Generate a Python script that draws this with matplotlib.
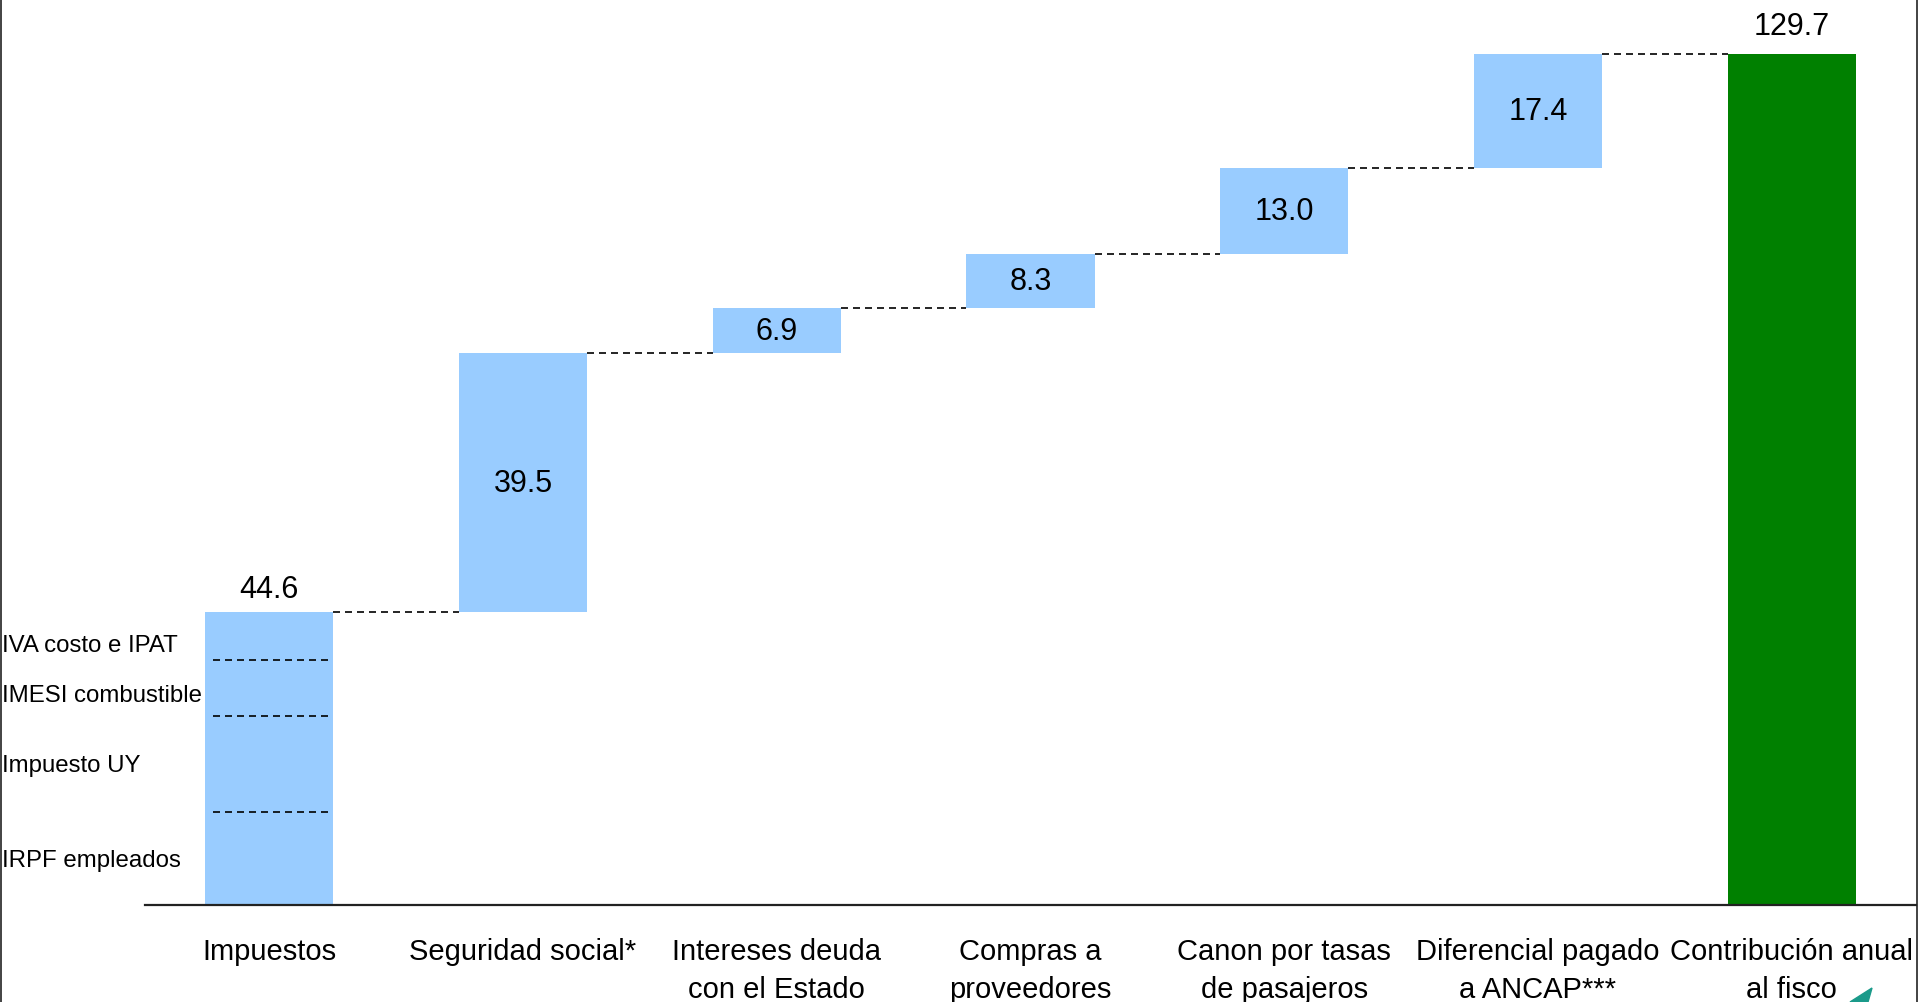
import matplotlib
matplotlib.use("Agg")
import matplotlib.pyplot as plt
from matplotlib.lines import Line2D
from matplotlib.patches import Polygon

plt.rcParams['font.family'] = ['Liberation Sans', 'DejaVu Sans']

# Waterfall steps (millions) and the total
categories = ["Impuestos", "Seguridad social*", "Intereses deuda\ncon el Estado",
              "Compras a\nproveedores", "Canon por tasas\nde pasajeros",
              "Diferencial pagado\na ANCAP***", "Contribución anual\nal fisco"]
steps = [44.6, 39.5, 6.9, 8.3, 13.0, 17.4]
total = 129.7

# Breakdown of the first bar (bottom to top)
tax_parts = ["IRPF empleados", "Impuesto UY", "IMESI combustible", "IVA costo e IPAT"]
tax_values = [14.2, 14.6, 8.5, 7.3]

BLUE = "#99CCFF"
GREEN = "#008000"

fig = plt.figure(figsize=(19.2, 10.03), dpi=100)
W, H = 1920, 1003
ax = fig.add_axes([144.5 / W, 97 / H, (1916 - 144.5) / W, 906 / H])
ax.set_xlim(-0.492, 6.49)
ax.set_ylim(0, 138.1)

width = 0.505
bottoms = []
acc = 0.0
for v in steps:
    bottoms.append(acc)
    acc += v

x = list(range(len(categories)))
ax.bar(x[:-1], steps, bottom=bottoms, width=width, color=BLUE, edgecolor="none", zorder=2)
ax.bar(x[-1], total, width=width, color=GREEN, edgecolor="none", zorder=2)

dash = (0, (4.2, 3.0))
# connectors between consecutive bars
tops = [b + v for b, v in zip(bottoms, steps)] + [total]
for i in range(len(categories) - 1):
    ax.plot([x[i] + width / 2, x[i + 1] - width / 2], [tops[i], tops[i]],
            color="black", lw=1.2, linestyle=dash, zorder=3)

# split lines inside the first bar
level = 0.0
for v in tax_values[:-1]:
    level += v
    ax.plot([x[0] - width / 2 + 0.03, x[0] + width / 2 - 0.01], [level, level],
            color="black", lw=1.2, linestyle=dash, zorder=3)

# breakdown labels on the left edge of the figure
label_pos = [6.9, 21.4, 32.05, 39.7]
for name, yv in zip(tax_parts, label_pos):
    ypx = ax.transData.transform((0, yv))[1]
    fig.text(2 / W, ypx / H, name, fontsize=17.3, ha="left", va="center", color="black")

# value labels
ax.text(x[0], tops[0] + 3.6, f"{steps[0]:.1f}", ha="center", va="center", fontsize=22)
for i in range(1, len(steps)):
    ax.text(x[i], bottoms[i] + steps[i] / 2, f"{steps[i]:.1f}", ha="center",
            va="center", fontsize=22, zorder=4)
ax.text(x[-1], total + 4.3, f"{total:.1f}", ha="center", va="center", fontsize=22)

# category labels under the baseline, one text per line
for xi, name in zip(x, categories):
    for k, line in enumerate(name.split("\n")):
        ax.annotate(line, xy=(xi, 0), xycoords=("data", "axes fraction"),
                    xytext=(0, -33.4 - 27.4 * k), textcoords="offset points",
                    ha="center", va="center", fontsize=21, annotation_clip=False)

for s in ["top", "left", "right"]:
    ax.spines[s].set_visible(False)
ax.spines["bottom"].set_linewidth(1.6)
ax.spines["bottom"].set_color("#222222")
ax.set_xticks([])
ax.set_yticks([])
ax.patch.set_visible(False)

# frame borders
fig.add_artist(Line2D([1 / W, 1 / W], [0, 1], color="#222222", lw=1.2))
fig.add_artist(Line2D([1917 / W, 1917 / W], [0, 1], color="#222222", lw=1.2))

# corner logo fragment
fig.add_artist(Polygon([(1850 / W, 0), (1872 / W, 14 / H), (1868 / W, 0)],
                       closed=True, color="#1a9a8a", transform=fig.transFigure))

fig.savefig("out.png", dpi=100)
